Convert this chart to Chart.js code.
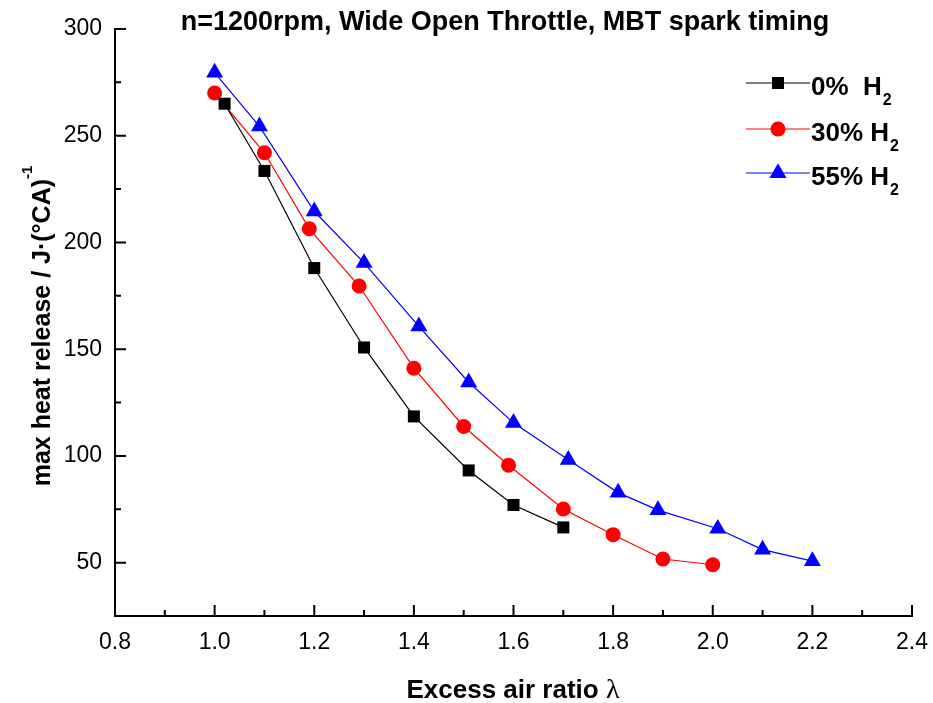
<!DOCTYPE html>
<html>
<head>
<meta charset="utf-8">
<script src="https://cdn.jsdelivr.net/npm/chart.js@4.4.0/dist/chart.umd.min.js"></script>
<style>
  body { margin: 0; background: #fff; }
  canvas { display: block; }
</style>
</head>
<body>
<canvas id="myChart" width="933" height="703"></canvas>
<script>
// excess air ratio (x) and max heat release (y) for each H2 fraction
const lambda0 = [1.02, 1.10, 1.20, 1.30, 1.40, 1.51, 1.60, 1.70];
const heat0 = [265, 233.5, 188, 150.8, 118.5, 93.2, 77, 66.5];

const lambda30 = [1.00, 1.10, 1.19, 1.29, 1.40, 1.50, 1.59, 1.70, 1.80, 1.90, 2.00];
const heat30 = [270, 242, 206.4, 179.6, 141.1, 113.8, 95.6, 75.1, 63.1, 51.7, 49];

const lambda55 = [1.00, 1.09, 1.20, 1.30, 1.41, 1.51, 1.60, 1.71, 1.81, 1.89, 2.01, 2.10, 2.20];
const heat55 = [279.6, 254.4, 214.6, 190.4, 160.7, 134.5, 115.5, 98.2, 82.8, 74.6, 65.9, 56.1, 50.7];

const seriesNames = ["0%  H", "30% H", "55% H"];
const xTicks = [0.8, 1.0, 1.2, 1.4, 1.6, 1.8, 2.0, 2.2, 2.4];
const yTicks = [50, 100, 150, 200, 250, 300];

const toPoints = (xs, ys) => xs.map((x, i) => ({ x: x, y: ys[i] }));

const styles = [
  { color: "#000000", pointStyle: "rect", radius: 8.5 },
  { color: "#ff0000", pointStyle: "circle", radius: 7.5 },
  { color: "#0000ff", pointStyle: "triangle", radius: 9.8 },
];

const data = {
  datasets: [
    [lambda0, heat0],
    [lambda30, heat30],
    [lambda55, heat55],
  ].map((d, i) => ({
    label: seriesNames[i] + "2",
    data: toPoints(d[0], d[1]),
    borderColor: styles[i].color,
    backgroundColor: styles[i].color,
    borderWidth: 1.2,
    pointStyle: styles[i].pointStyle,
    pointRadius: styles[i].radius,
    pointBorderWidth: 0,
    tension: 0,
  })),
};

const BOLD = "'Liberation Sans', Arial, sans-serif";

// inward ticks, titles and legend
const decorations = {
  id: "decorations",
  afterDraw(chart) {
    const ctx = chart.ctx;
    const xs = chart.scales.x;
    const ys = chart.scales.y;
    const area = chart.chartArea;
    ctx.save();
    ctx.strokeStyle = "#000";
    ctx.lineWidth = 2;
    ctx.beginPath();
    xTicks.forEach((v, i) => {
      const px = xs.getPixelForValue(v);
      ctx.moveTo(px, area.bottom);
      ctx.lineTo(px, area.bottom - 11);
      if (i < xTicks.length - 1) {
        const pm = xs.getPixelForValue((v + xTicks[i + 1]) / 2);
        ctx.moveTo(pm, area.bottom);
        ctx.lineTo(pm, area.bottom - 6);
      }
    });
    yTicks.forEach((v) => {
      const py = ys.getPixelForValue(v);
      ctx.moveTo(area.left, py);
      ctx.lineTo(area.left + 11, py);
      const pm = ys.getPixelForValue(v - 25);
      ctx.moveTo(area.left, pm);
      ctx.lineTo(area.left + 6, pm);
    });
    ctx.stroke();

    // title
    ctx.fillStyle = "#000";
    ctx.font = "bold 27px " + BOLD;
    ctx.textAlign = "center";
    ctx.textBaseline = "alphabetic";
    ctx.fillText("n=1200rpm, Wide Open Throttle, MBT spark timing", 505, 30);

    // x title
    ctx.textAlign = "left";
    const xt = "Excess air ratio ";
    ctx.font = "bold 26px " + BOLD;
    const wx = ctx.measureText(xt).width;
    ctx.font = "28px 'Liberation Serif', 'Times New Roman', serif";
    const wl = ctx.measureText("λ").width;
    const sx = 513 - (wx + wl) / 2;
    ctx.font = "bold 26px " + BOLD;
    ctx.fillText(xt, sx, 698);
    ctx.font = "28px 'Liberation Serif', 'Times New Roman', serif";
    ctx.fillText("λ", sx + wx, 698);

    // y title
    ctx.save();
    ctx.translate(50, 326);
    ctx.rotate(-Math.PI / 2);
    ctx.font = "bold 25px " + BOLD;
    const yt = "max heat release / J·(°CA)";
    const wy = ctx.measureText(yt).width;
    ctx.font = "bold 15px " + BOLD;
    const ws = ctx.measureText("-1").width;
    const start = -(wy + ws) / 2;
    ctx.font = "bold 25px " + BOLD;
    ctx.fillText(yt, start, 0);
    ctx.font = "bold 15px " + BOLD;
    ctx.fillText("-1", start + wy, -18);
    ctx.restore();

    // legend
    const rows = [83, 129, 173];
    chart.data.datasets.forEach((ds, i) => {
      const y = rows[i];
      ctx.strokeStyle = ds.borderColor;
      ctx.lineWidth = 1.2;
      ctx.beginPath();
      ctx.moveTo(746, y);
      ctx.lineTo(810, y);
      ctx.stroke();
      ctx.fillStyle = ds.backgroundColor;
      Chart.helpers.drawPoint(ctx, { pointStyle: ds.pointStyle, radius: ds.pointRadius, borderWidth: 0, rotation: 0 }, 778, y);
      ctx.fillStyle = "#000";
      ctx.font = "bold 26px " + BOLD;
      const name = seriesNames[i];
      ctx.fillText(name, 811, y + 12);
      const wn = ctx.measureText(name).width;
      ctx.font = "bold 16px " + BOLD;
      ctx.fillText("2", 811 + wn + 1, y + 22);
    });
    ctx.restore();
  },
};

const config = {
  type: "line",
  data: data,
  options: {
    responsive: false,
    animation: false,
    layout: { padding: { top: 29, right: 21, bottom: 0, left: 0 } },
    plugins: {
      legend: { display: false },
      title: { display: false },
      tooltip: { enabled: false },
    },
    scales: {
      x: {
        type: "linear",
        min: 0.8,
        max: 2.4,
        afterBuildTicks: (scale) => {
          scale.ticks = xTicks.map((v) => ({ value: v }));
        },
        afterFit: (scale) => {
          scale.height = 87;
          scale.paddingLeft = 0;
          scale.paddingRight = 0;
        },
        grid: { display: false, drawTicks: false },
        border: { display: true, color: "#000", width: 2 },
        ticks: {
          color: "#000",
          padding: 13,
          maxRotation: 0,
          font: { family: "'Liberation Sans', Arial", size: 23 },
          callback: (v) => v.toFixed(1),
        },
      },
      y: {
        min: 25,
        max: 300,
        afterBuildTicks: (scale) => {
          scale.ticks = yTicks.map((v) => ({ value: v }));
        },
        afterFit: (scale) => {
          scale.width = 115;
          scale.paddingTop = 0;
          scale.paddingBottom = 0;
        },
        grid: { display: false, drawTicks: false },
        border: { display: true, color: "#000", width: 2 },
        ticks: {
          color: "#000",
          padding: 13,
          font: { family: "'Liberation Sans', Arial", size: 23 },
        },
      },
    },
  },
  plugins: [decorations],
};

const ctx = document.getElementById("myChart").getContext("2d");
new Chart(ctx, config);
</script>
</body>
</html>
